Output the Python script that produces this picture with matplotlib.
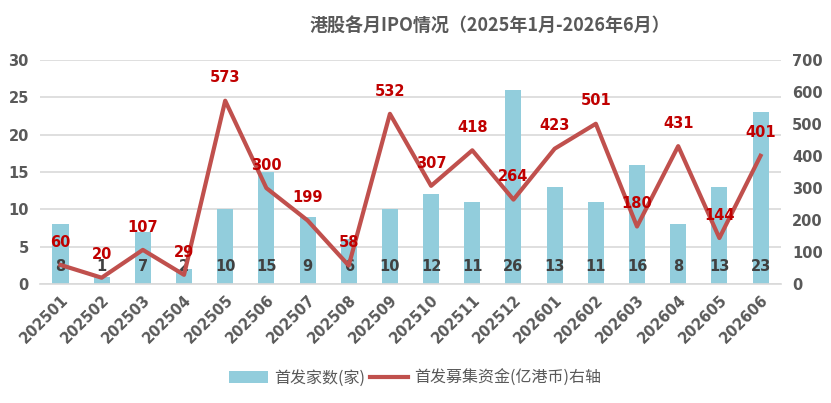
import numpy as np
import matplotlib
matplotlib.use('Agg')
import matplotlib.pyplot as plt

plt.rcParams['font.family'] = ['DejaVu Sans', 'Noto Sans CJK SC']

months = ['202501', '202502', '202503', '202504', '202505', '202506',
          '202507', '202508', '202509', '202510', '202511', '202512',
          '202601', '202602', '202603', '202604', '202605', '202606']
counts = [8, 1, 7, 2, 10, 15, 9, 6, 10, 12, 11, 26, 13, 11, 16, 8, 13, 23]
funds = [60, 20, 107, 29, 573, 300, 199, 58, 532, 307, 418, 264, 423, 501, 180, 431, 144, 401]

bar_color = '#92CDDC'
line_color = '#C0504D'
grey = '#595959'

fig = plt.figure(figsize=(8.31, 4.03), dpi=100)
ax = fig.add_axes([0.048, 0.295, 0.892, 0.556])
ax2 = ax.twinx()

x = np.arange(len(months))
ax.bar(x, counts, width=0.39, color=bar_color, zorder=2, label='首发家数(家)')
ax2.plot(x, funds, color=line_color, lw=3, zorder=3, label='首发募集资金(亿港币)右轴')

ax.set_xlim(-0.5, len(months) - 0.5)
ax.set_ylim(0, 30)
ax2.set_ylim(0, 700)
ax.set_yticks(range(0, 31, 5))
ax2.set_yticks(range(0, 701, 100))
ax.grid(axis='y', color='#D9D9D9', lw=1.2, zorder=0)
ax.set_axisbelow(True)

for a in (ax, ax2):
    for s in a.spines.values():
        s.set_visible(False)
    a.tick_params(length=0, labelsize=10.5, colors=grey)
    for lab in a.get_yticklabels() + a.get_xticklabels():
        lab.set_fontweight('semibold')
ax.spines['bottom'].set_visible(True)
ax.spines['bottom'].set_color('#D9D9D9')
ax.spines['bottom'].set_linewidth(1.2)

ax.set_xticks(x)
ax.set_xticklabels(months, rotation=45, ha='right', rotation_mode='anchor', fontweight='semibold')
ax.tick_params(axis='x', pad=6)
ax2.tick_params(axis='y', pad=8)
ax.tick_params(axis='y', pad=8)
for lab in ax.get_yticklabels() + ax2.get_yticklabels():
    lab.set_fontweight('semibold')

# data labels
for xi, c in zip(x, counts):
    ax.text(xi, 2.4, str(c), ha='center', va='center', fontsize=10.5, color='#404040',
            fontweight='semibold', zorder=5)
for xi, f in zip(x, funds):
    ax2.annotate(str(f), (xi, f), xytext=(0, 11), textcoords='offset points',
                 ha='center', va='bottom', fontsize=10.5, color='#C00000',
                 fontweight='bold', zorder=6)

fig.text(0.59, 0.935, '港股各月IPO情况（2025年1月-2026年6月）', ha='center', va='center',
         fontsize=13, fontweight='bold', color=grey, family=['Noto Sans CJK SC'])

h1, l1 = ax.get_legend_handles_labels()
h2, l2 = ax2.get_legend_handles_labels()
fig.legend(h1 + h2, l1 + l2, loc='center', bbox_to_anchor=(0.5, 0.062), ncol=2, frameon=False,
           prop={'family': ['Noto Sans CJK SC'], 'size': 11.5, 'weight': 'medium'}, labelcolor=grey,
           handlelength=2.4, handletextpad=0.4, columnspacing=0.3)

fig.savefig('out.png', dpi=100)
